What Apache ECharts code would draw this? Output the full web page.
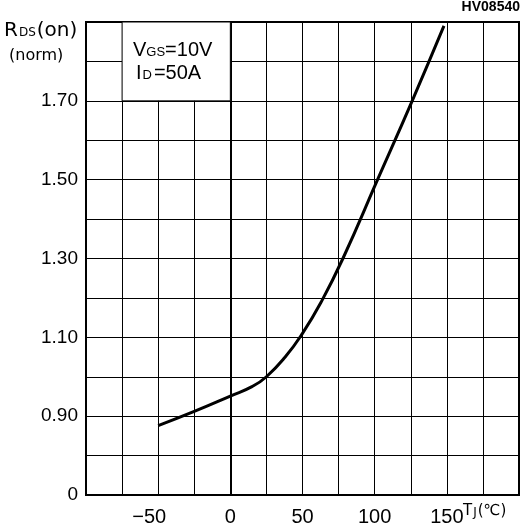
<!DOCTYPE html>
<html><head><meta charset="utf-8">
<script src="https://cdn.jsdelivr.net/npm/echarts@6/dist/echarts.min.js"></script>
<style>html,body{margin:0;padding:0;background:#fff}#c{width:526px;height:527px}</style>
</head><body><div id="c"></div>
<script>
// Junction temperature (°C) and normalized RDS(on)
const temps = [-50, -25, 0, 15, 25, 38, 50, 63, 78, 102, 126, 148];
const rdsNorm = [0.876, 0.912, 0.951, 0.975, 1.00, 1.05, 1.11, 1.19, 1.30, 1.50, 1.70, 1.89];
const xTickLabels = {'-50': '\u221250{s|}', '0': '0', '50': '50', '100': '100', '150': '150'};
const yTickLabels = {'7': '0', '9': '0.90', '11': '1.10', '13': '1.30', '15': '1.50', '17': '1.70'};

const chart = echarts.init(document.getElementById('c'), null, {renderer: 'canvas'});
const F = 'Liberation Sans, Arial, sans-serif';
const FD = 'DejaVu Sans, sans-serif';
chart.setOption({
  backgroundColor: '#fff',
  animation: false,
  grid: {left: 86, right: 7, top: 22, bottom: 32, show: true, borderColor: '#000', borderWidth: 2, backgroundColor: 'transparent'},
  xAxis: {
    type: 'value', min: -100, max: 200, interval: 25,
    axisLine: {show: true, lineStyle: {color: '#000', width: 2}},
    axisTick: {show: false},
    splitLine: {show: true, lineStyle: {color: '#000', width: 1}},
    axisLabel: {
      color: '#000', fontFamily: F, fontSize: 20, margin: 12,
      showMinLabel: true, showMaxLabel: true,
      rich: {s: {width: 18}},
      formatter: v => { const k = String(Math.round(v)); return xTickLabels[k] !== undefined ? xTickLabels[k] : ''; }
    }
  },
  yAxis: {
    type: 'value', min: 0.7, max: 1.9, interval: 0.1,
    axisLine: {show: true, lineStyle: {color: '#000', width: 2}},
    axisTick: {show: false},
    splitLine: {show: true, lineStyle: {color: '#000', width: 1}},
    axisLabel: {
      color: '#000', fontFamily: F, fontSize: 19, margin: 8,
      showMinLabel: true, showMaxLabel: true,
      formatter: v => { const k = String(Math.round(v * 10)); return yTickLabels[k] !== undefined ? yTickLabels[k] : ''; }
    }
  },
  series: [{
    type: 'line',
    data: temps.map((t, i) => [t, rdsNorm[i]]),
    smooth: 0.5,
    showSymbol: false,
    lineStyle: {color: '#000', width: 3},
    z: 5,
    markArea: {
      silent: true,
      itemStyle: {color: '#fff', borderColor: '#000', borderWidth: 1},
      data: [[{coord: [-75, 1.7]}, {coord: [0, 1.9]}]]
    }
  }],
  graphic: [
    {type: 'text', left: 4, top: 21, style: {
      text: '{a|R}{b|DS}{a|(on)}', fill: '#000',
      rich: {a: {fontFamily: FD, fontSize: 20, fill: '#000', verticalAlign: 'bottom'}, b: {fontFamily: FD, fontSize: 12, fill: '#000', verticalAlign: 'bottom', padding: [0, 1, 2, 1]}}
    }},
    {type: 'text', left: 9, top: 48, style: {text: '(norm)', fill: '#000', font: '16px ' + FD}},
    {type: 'text', right: 6, top: 0, style: {text: 'HV08540', fill: '#000', font: 'bold 14px ' + F}},
    {type: 'text', left: 133, top: 40, z: 10, style: {
      text: '{a|V}{b|GS}{a|=10V}', fill: '#000',
      rich: {a: {fontFamily: F, fontSize: 20, fill: '#000', verticalAlign: 'bottom'}, b: {fontFamily: F, fontSize: 13, fill: '#000', verticalAlign: 'bottom', padding: [0, 0, 1, 0]}}
    }},
    {type: 'text', left: 136, top: 63, z: 10, style: {
      text: '{a|I}{b|D}{a|=50A}', fill: '#000',
      rich: {a: {fontFamily: F, fontSize: 20, fill: '#000', verticalAlign: 'bottom'}, b: {fontFamily: F, fontSize: 13, fill: '#000', verticalAlign: 'bottom', padding: [0, 2, 1, 1]}}
    }},
    {type: 'text', left: 463, top: 504, style: {
      text: '{a|T}{b|J}{a|(\u2103)}', fill: '#000',
      rich: {a: {fontFamily: FD, fontSize: 15, fill: '#000', verticalAlign: 'bottom'}, b: {fontFamily: FD, fontSize: 12, fill: '#000', verticalAlign: 'bottom', padding: [0, 1, 0, 1]}}
    }}
  ]
});
</script></body></html>
